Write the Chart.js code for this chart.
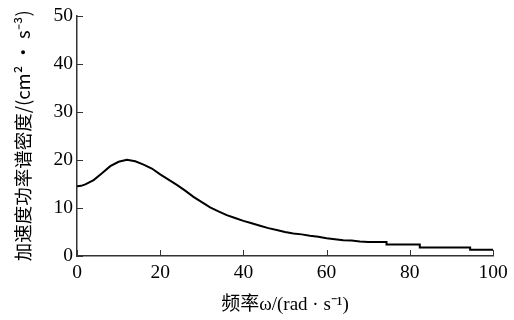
<!DOCTYPE html>
<html>
<head>
<meta charset="utf-8">
<script src="https://cdn.jsdelivr.net/npm/chart.js@4/dist/chart.umd.min.js"></script>
<style>
  html, body { margin: 0; padding: 0; background: #fff; }
  #wrap { width: 514px; height: 320px; }
</style>
</head>
<body>
<div id="wrap"><canvas id="psd" width="514" height="320"></canvas></div>
<script>
// === dados ===
const freq = [0, 1, 2, 4, 6, 8, 10, 12, 14, 16, 18, 20, 22, 24, 26, 28, 30, 32, 34, 36, 38, 40,
  42, 44, 46, 48, 50, 52, 54, 56, 58, 60, 62, 64, 66, 68, 70, 74.4, 74.4, 82.4, 82.4, 94.5, 94.5, 100];
const psd = [14.5, 14.6, 14.9, 15.8, 17.2, 18.7, 19.6, 20.0, 19.7, 19.0, 18.2, 17.0, 15.9, 14.8, 13.6, 12.3, 11.2, 10.1, 9.3, 8.5, 7.9, 7.3,
  6.8, 6.3, 5.8, 5.4, 5.0, 4.7, 4.5, 4.2, 4.0, 3.7, 3.5, 3.3, 3.2, 3.0, 2.9, 2.9, 2.4, 2.4, 1.75, 1.75, 1.3, 1.3];
const xTicks = [0, 20, 40, 60, 80, 100];
const yTicks = [0, 10, 20, 30, 40, 50];

const xTitle = '频率ω/(rad · s⁻¹)';
const yTitle = '加速度功率谱密度/(cm² · s⁻³)';

const serif = "'Liberation Serif', 'Noto Sans CJK SC', serif";

// pontos {x, y}
const points = freq.map((f, i) => ({ x: f, y: psd[i] }));

// tracinhos para dentro (como no original)
const innerTicks = {
  id: 'innerTicks',
  afterDraw(chart) {
    const ctx = chart.ctx;
    const xs = chart.scales.x, ys = chart.scales.y;
    const area = chart.chartArea;
    ctx.save();
    ctx.strokeStyle = '#333';
    ctx.lineWidth = 1;
    ctx.beginPath();
    xTicks.forEach(v => {
      const px = Math.round(xs.getPixelForValue(v)) + 0.5;
      ctx.moveTo(px, area.bottom);
      ctx.lineTo(px, area.bottom - 6);
    });
    yTicks.forEach(v => {
      const py = Math.round(ys.getPixelForValue(v)) + 0.5;
      ctx.moveTo(area.left, py);
      ctx.lineTo(area.left + 6, py);
    });
    ctx.stroke();
    ctx.restore();
  }
};

new Chart(document.getElementById('psd'), {
  type: 'line',
  data: {
    datasets: [{
      data: points,
      borderColor: '#000',
      borderWidth: 2,
      pointRadius: 0,
      tension: 0,
      fill: false
    }]
  },
  options: {
    responsive: false,
    animation: false,
    layout: { padding: { top: 13, right: 21, left: 0, bottom: 0 } },
    plugins: {
      legend: { display: false },
      tooltip: { enabled: false }
    },
    scales: {
      x: {
        type: 'linear',
        min: 0, max: 100,
        afterBuildTicks: s => { s.ticks = xTicks.map(v => ({ value: v })); },
        afterFit: s => { s.height = 64; },
        grid: { display: false, drawTicks: false },
        border: { display: true, color: '#333', width: 1.5 },
        ticks: { color: '#000', padding: 5, maxRotation: 0, font: { family: serif, size: 19.5 } },
        title: { display: true, text: xTitle, color: '#000', padding: { top: 11 }, font: { family: serif, size: 19 } }
      },
      y: {
        type: 'linear',
        min: 0, max: 50,
        afterBuildTicks: s => { s.ticks = yTicks.map(v => ({ value: v })); },
        afterFit: s => { s.width = 77; },
        grid: { display: false, drawTicks: false },
        border: { display: true, color: '#333', width: 1.5 },
        ticks: { color: '#000', padding: 4, font: { family: serif, size: 19.5 } },
        title: { display: true, text: yTitle, color: '#000', padding: { top: 12 }, font: { family: "'Noto Sans CJK SC', 'Liberation Serif', sans-serif", size: 18.5 } }
      }
    }
  },
  plugins: [innerTicks]
});
</script>
</body>
</html>
